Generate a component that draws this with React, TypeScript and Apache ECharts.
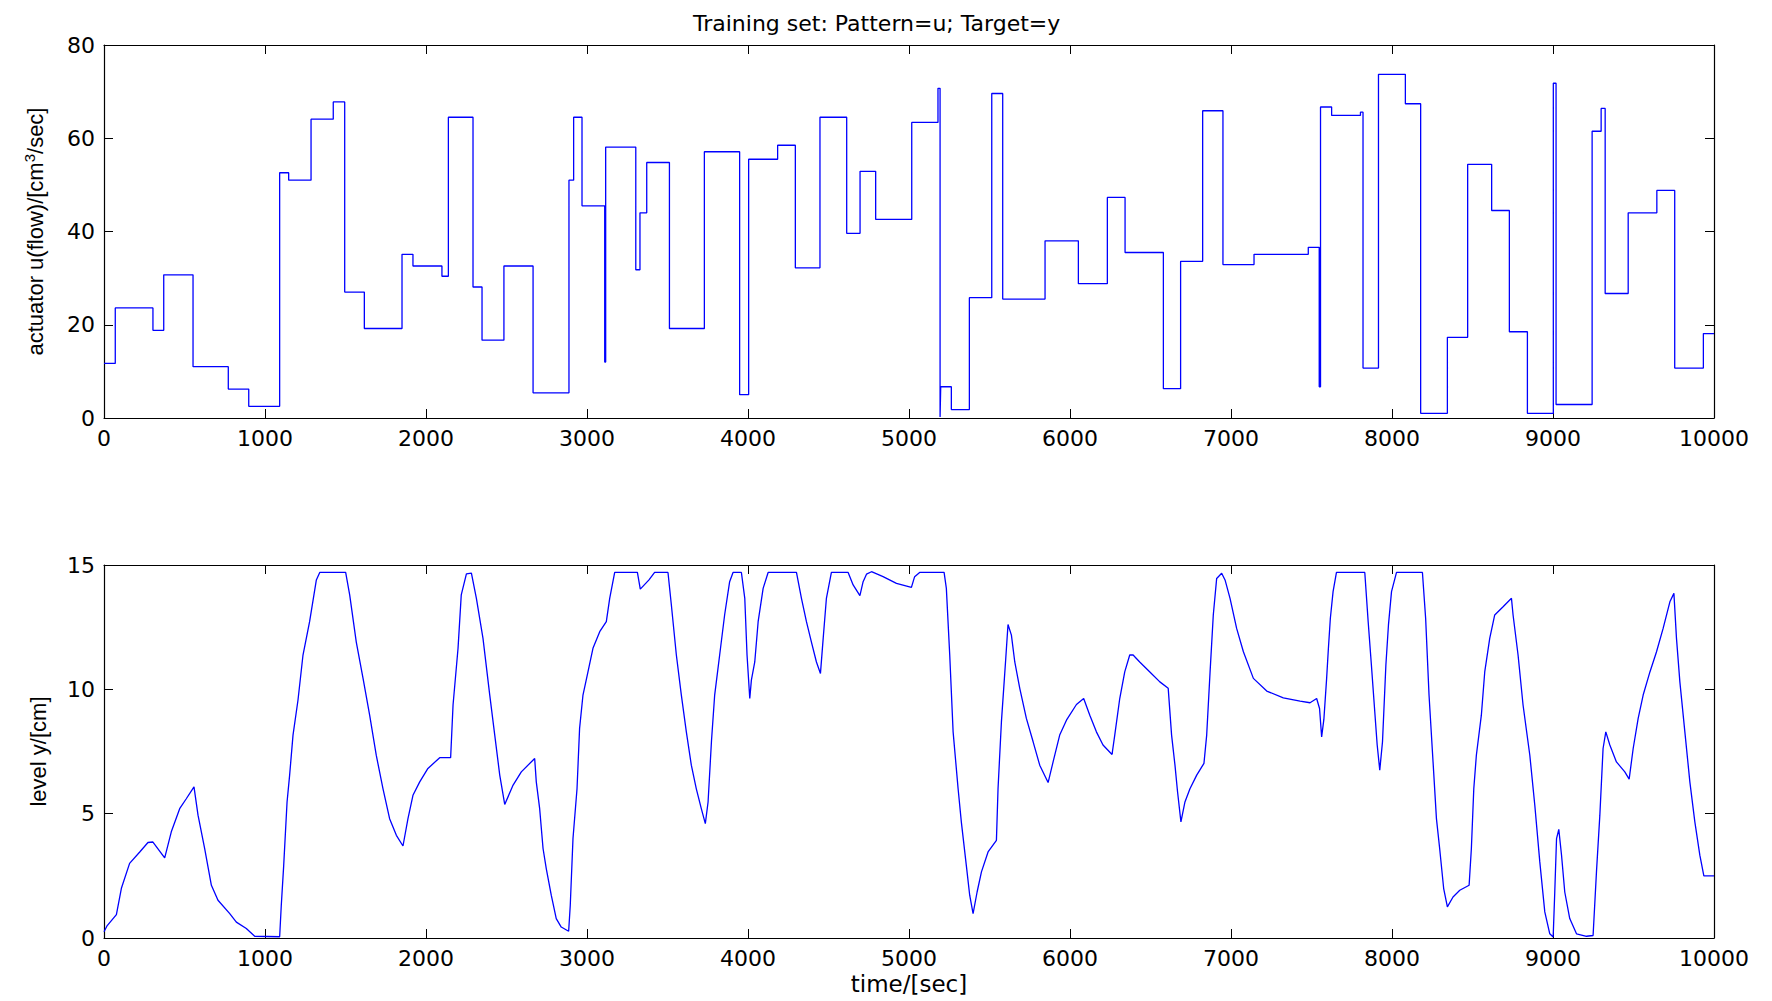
import React, { useEffect, useRef } from "react";
import * as echarts from "echarts";

const TITLE = "Training set: Pattern=u; Target=y";
const X_NAME = "time/[sec]";
const Y1_NAME = "actuator u(flow)/[cm{sup|3}/sec]";
const Y2_NAME = "level y/[cm]";

// actuator flow: [time at which the value starts, value held until next time]
const flowSteps: [number, number][] = [
  [0, 11.7], [70, 23.6], [304, 18.8], [371, 30.7], [553, 11.0], [772, 6.2], [899, 2.5],
  [1091, 52.6], [1147, 51.0], [1286, 64.1], [1424, 67.8], [1495, 27.0], [1617, 19.2],
  [1851, 35.1], [1919, 32.6], [2099, 30.4], [2139, 64.5], [2292, 28.1], [2348, 16.7],
  [2484, 32.6], [2665, 5.4], [2888, 51.0], [2917, 64.5], [2969, 45.5], [3110, 12.0],
  [3116, 58.1], [3303, 31.8], [3329, 44.0], [3371, 54.8], [3512, 19.2], [3729, 57.1],
  [3948, 5.0], [4004, 55.5], [4184, 58.5], [4294, 32.2], [4447, 64.5], [4613, 39.6],
  [4696, 52.9], [4793, 42.6], [5017, 63.4], [5180, 70.7], [5193, 0.2], [5197, 6.7],
  [5263, 1.8], [5375, 25.8], [5514, 69.6], [5582, 25.5], [5845, 38.0], [6052, 28.8],
  [6232, 47.3], [6342, 35.5], [6580, 6.3], [6687, 33.6], [6824, 65.9], [6950, 32.9],
  [7143, 35.1], [7480, 36.6], [7548, 6.7], [7556, 66.7], [7625, 64.9], [7804, 65.6],
  [7820, 10.7], [7916, 73.7], [8083, 67.4], [8178, 1.0], [8344, 17.3], [8470, 54.4],
  [8619, 44.5], [8729, 18.5], [8841, 1.0], [9002, 71.8], [9019, 2.9], [9243, 61.5],
  [9299, 66.4], [9324, 26.7], [9467, 44.0], [9645, 48.8], [9756, 10.7], [9934, 18.1],
  [10000, 18.1],
];

// tank level: [time, level]
const levelPoints: [number, number][] = [
  [0, 0.25], [20, 0.5], [77, 0.94], [108, 2.0], [159, 3.0], [222, 3.46], [273, 3.84],
  [304, 3.86], [377, 3.22], [418, 4.27], [470, 5.2], [511, 5.6], [559, 6.08], [584, 4.94],
  [625, 3.6], [667, 2.12], [708, 1.52], [781, 0.98], [822, 0.64], [884, 0.38], [936, 0.07],
  [1091, 0.05], [1101, 1.3], [1116, 2.9], [1137, 5.47], [1153, 6.55], [1174, 8.16],
  [1205, 9.57], [1236, 11.38], [1277, 12.72], [1319, 14.4], [1340, 14.7], [1501, 14.7],
  [1526, 13.8], [1567, 11.9], [1609, 10.44], [1650, 8.96], [1691, 7.35], [1733, 6.0],
  [1774, 4.8], [1816, 4.13], [1857, 3.7], [1888, 4.8], [1919, 5.74], [1961, 6.28],
  [2012, 6.82], [2085, 7.25], [2153, 7.25], [2168, 9.37], [2199, 11.65], [2219, 13.8],
  [2251, 14.64], [2282, 14.67], [2313, 13.66], [2354, 12.05], [2396, 9.77], [2427, 8.16],
  [2458, 6.55], [2489, 5.37], [2541, 6.15], [2592, 6.68], [2675, 7.22], [2685, 6.28],
  [2706, 5.2], [2727, 3.6], [2747, 2.79], [2778, 1.72], [2809, 0.78], [2840, 0.44],
  [2886, 0.27], [2896, 1.31], [2913, 4.0], [2938, 6.0], [2954, 8.43], [2975, 9.77],
  [3006, 10.7], [3037, 11.65], [3079, 12.32], [3120, 12.72], [3141, 13.66], [3172, 14.7],
  [3313, 14.7], [3331, 14.03], [3385, 14.4], [3420, 14.7], [3503, 14.7], [3524, 13.39],
  [3555, 11.38], [3586, 9.77], [3617, 8.29], [3648, 6.95], [3679, 6.0], [3710, 5.2],
  [3735, 4.6], [3752, 5.47], [3773, 7.9], [3793, 9.77], [3824, 11.38], [3855, 13.0],
  [3886, 14.33], [3907, 14.7], [3959, 14.7], [3980, 13.66], [3994, 11.38], [4011, 9.63],
  [4021, 10.37], [4042, 11.1], [4063, 12.72], [4094, 14.06], [4125, 14.7], [4301, 14.7],
  [4332, 13.66], [4363, 12.72], [4394, 11.9], [4425, 11.1], [4450, 10.64], [4467, 12.05],
  [4487, 13.66], [4518, 14.7], [4622, 14.7], [4653, 14.2], [4695, 13.77], [4715, 14.33],
  [4736, 14.63], [4767, 14.73], [4839, 14.53], [4922, 14.26], [5015, 14.1], [5035, 14.53],
  [5066, 14.7], [5218, 14.7], [5232, 14.06], [5253, 11.38], [5274, 8.29], [5305, 6.0],
  [5325, 4.67], [5356, 2.92], [5377, 1.72], [5398, 0.98], [5423, 1.85], [5450, 2.66],
  [5491, 3.46], [5543, 3.93], [5553, 6.0], [5574, 8.69], [5601, 11.24], [5615, 12.61],
  [5636, 12.18], [5657, 11.1], [5688, 10.04], [5729, 8.83], [5771, 7.89], [5812, 6.95],
  [5864, 6.25], [5895, 7.08], [5936, 8.16], [5978, 8.76], [6040, 9.39], [6085, 9.63],
  [6123, 8.96], [6164, 8.29], [6205, 7.76], [6261, 7.38], [6278, 8.16], [6309, 9.63],
  [6340, 10.7], [6371, 11.38], [6392, 11.38], [6433, 11.1], [6496, 10.7], [6558, 10.3],
  [6610, 10.04], [6631, 8.16], [6652, 6.95], [6668, 5.88], [6689, 4.67], [6714, 5.47],
  [6745, 6.0], [6787, 6.55], [6832, 7.02], [6849, 8.16], [6870, 10.7], [6890, 12.99],
  [6911, 14.46], [6942, 14.67], [6963, 14.4], [6994, 13.66], [7035, 12.45], [7077, 11.51],
  [7139, 10.44], [7222, 9.93], [7325, 9.66], [7429, 9.53], [7491, 9.46], [7532, 9.63],
  [7550, 9.23], [7563, 8.09], [7577, 8.8], [7594, 10.44], [7605, 11.65], [7617, 12.85],
  [7634, 13.93], [7655, 14.7], [7831, 14.7], [7852, 12.72], [7872, 10.98], [7893, 9.1],
  [7908, 7.76], [7924, 6.75], [7941, 7.89], [7962, 10.98], [7978, 12.59], [7997, 13.93],
  [8028, 14.7], [8189, 14.7], [8209, 12.85], [8230, 9.77], [8255, 7.08], [8276, 4.8],
  [8296, 3.6], [8321, 1.99], [8344, 1.25], [8379, 1.65], [8421, 1.92], [8479, 2.12],
  [8493, 3.6], [8508, 6.0], [8524, 7.35], [8555, 8.96], [8576, 10.7], [8607, 12.05],
  [8638, 12.99], [8690, 13.32], [8742, 13.66], [8752, 12.99], [8783, 11.38], [8814, 9.37],
  [8856, 7.35], [8887, 5.34], [8918, 3.06], [8949, 1.05], [8980, 0.17], [9001, 0.04],
  [9011, 1.85], [9022, 4.0], [9036, 4.37], [9053, 3.33], [9073, 1.85], [9104, 0.78],
  [9146, 0.17], [9208, 0.07], [9249, 0.1], [9270, 2.66], [9291, 4.94], [9311, 7.62],
  [9328, 8.29], [9353, 7.76], [9394, 7.08], [9446, 6.68], [9473, 6.39], [9498, 7.62],
  [9529, 8.83], [9560, 9.77], [9602, 10.7], [9643, 11.51], [9684, 12.45], [9726, 13.52],
  [9751, 13.86], [9767, 12.05], [9788, 10.3], [9819, 8.29], [9850, 6.28], [9881, 4.67],
  [9912, 3.33], [9937, 2.5], [10000, 2.5],
];

const TIME_MIN = 0;
const TIME_MAX = 10000;
const TIME_STEP = 1000;
const FLOW_MIN = 0;
const FLOW_MAX = 80;
const FLOW_STEP = 20;
const LEVEL_MIN = 0;
const LEVEL_MAX = 15;
const LEVEL_STEP = 5;

const TICK_FONT = "DejaVu Sans";
const NAME_FONT = "Liberation Sans";
const LINE_COLOR = "#0000ff";

const plainNumber = (v: number) => String(v);

function xAxisDef(gridIndex: number, position: "top" | "bottom", labels: boolean, name?: string) {
  return {
    type: "value",
    gridIndex,
    position,
    min: TIME_MIN,
    max: TIME_MAX,
    interval: TIME_STEP,
    name: name || "",
    nameLocation: "middle",
    nameGap: 34,
    nameTextStyle: { fontFamily: TICK_FONT, fontSize: 23, color: "#000" },
    axisLine: { show: true, onZero: false, lineStyle: { color: "#000", width: 1.2 } },
    axisTick: { show: true, inside: true, length: 9, lineStyle: { color: "#000", width: 1 } },
    axisLabel: {
      show: labels,
      fontFamily: TICK_FONT,
      fontSize: 22,
      color: "#000",
      margin: 9,
      formatter: plainNumber,
    },
    splitLine: { show: false },
  };
}

function yAxisDef(
  gridIndex: number,
  position: "left" | "right",
  labels: boolean,
  min: number,
  max: number,
  interval: number,
  name?: string
) {
  return {
    type: "value",
    gridIndex,
    position,
    min,
    max,
    interval,
    name: name || "",
    nameLocation: "middle",
    nameGap: 55,
    nameTextStyle: {
      fontFamily: NAME_FONT,
      fontSize: 22,
      color: "#000",
      rich: {
        sup: { fontFamily: NAME_FONT, fontSize: 15, color: "#000", verticalAlign: "top", padding: [0, 0, 12, 0] },
      },
    },
    axisLine: { show: true, onZero: false, lineStyle: { color: "#000", width: 1.2 } },
    axisTick: { show: true, inside: true, length: 9, lineStyle: { color: "#000", width: 1 } },
    axisLabel: {
      show: labels,
      fontFamily: TICK_FONT,
      fontSize: 22,
      color: "#000",
      margin: 9,
      formatter: plainNumber,
    },
    splitLine: { show: false },
  };
}

export default function App() {
  const ref = useRef<HTMLDivElement>(null);

  useEffect(() => {
    if (!ref.current) return;
    const chart = echarts.init(ref.current, null, { renderer: "svg" });
    const option = {
      animation: false,
      backgroundColor: "#ffffff",
      title: {
        text: TITLE,
        left: 688,
        top: 7,
        textStyle: { fontFamily: TICK_FONT, fontSize: 22, fontWeight: "normal", color: "#000" },
      },
      grid: [
        { left: 104, top: 45, width: 1610, height: 373, containLabel: false },
        { left: 104, top: 565, width: 1610, height: 373, containLabel: false },
      ],
      xAxis: [
        xAxisDef(0, "bottom", true),
        xAxisDef(0, "top", false),
        xAxisDef(1, "bottom", true, X_NAME),
        xAxisDef(1, "top", false),
      ],
      yAxis: [
        yAxisDef(0, "left", true, FLOW_MIN, FLOW_MAX, FLOW_STEP, Y1_NAME),
        yAxisDef(0, "right", false, FLOW_MIN, FLOW_MAX, FLOW_STEP),
        yAxisDef(1, "left", true, LEVEL_MIN, LEVEL_MAX, LEVEL_STEP, Y2_NAME),
        yAxisDef(1, "right", false, LEVEL_MIN, LEVEL_MAX, LEVEL_STEP),
      ],
      series: [
        {
          name: "u",
          type: "line",
          xAxisIndex: 0,
          yAxisIndex: 0,
          step: "end",
          data: flowSteps,
          showSymbol: false,
          symbol: "none",
          lineStyle: { color: LINE_COLOR, width: 1.3 },
          silent: true,
        },
        {
          name: "y",
          type: "line",
          xAxisIndex: 2,
          yAxisIndex: 2,
          data: levelPoints,
          showSymbol: false,
          symbol: "none",
          lineStyle: { color: LINE_COLOR, width: 1.3 },
          silent: true,
        },
      ],
    };
    chart.setOption(option as any);
    return () => chart.dispose();
  }, []);

  return (
    <div
      ref={ref}
      style={{ position: "fixed", left: 0, top: 0, width: 1772, height: 1001, background: "#fff" }}
    />
  );
}
